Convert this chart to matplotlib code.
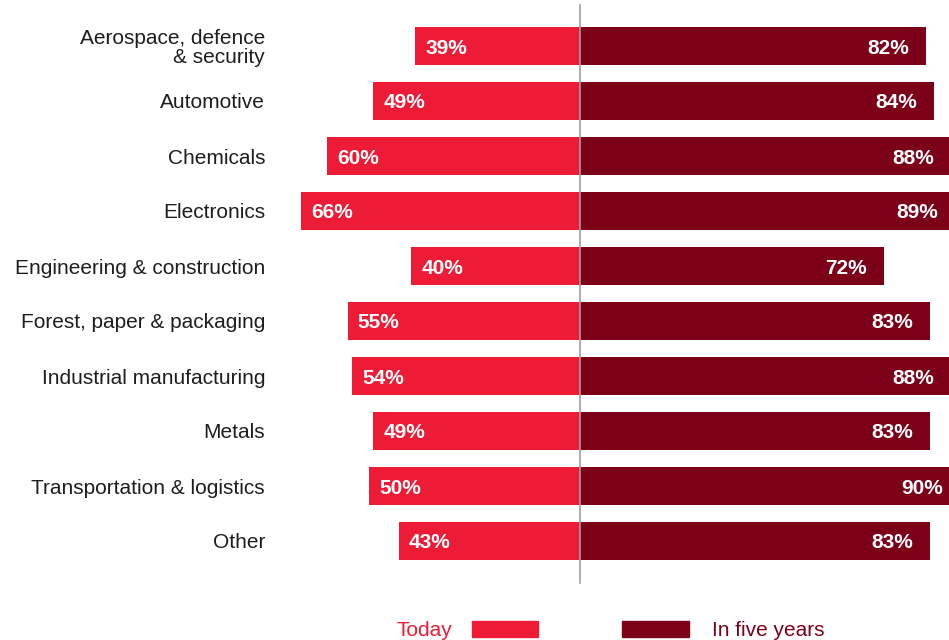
import matplotlib.pyplot as plt
from matplotlib.patches import Rectangle

plt.rcParams['font.family'] = ['Liberation Sans', 'DejaVu Sans']

categories = ['Aerospace, defence\n& security', 'Automotive', 'Chemicals', 'Electronics',
              'Engineering & construction', 'Forest, paper & packaging',
              'Industrial manufacturing', 'Metals', 'Transportation & logistics', 'Other']
today = [39, 49, 60, 66, 40, 55, 54, 49, 50, 43]
five_years = [82, 84, 88, 89, 72, 83, 88, 83, 90, 83]

red = '#ED1B36'
dark = '#7D0019'

# pixel geometry of the reference: 4.22 px per percent, centre at x=580, rows 55 px apart
px = 4.22
fig = plt.figure(figsize=(9.49, 6.4), dpi=100)
ax = fig.add_axes([0, 0, 1, 1])
ax.set_xlim(-580 / px, (949 - 580) / px)
ax.set_ylim((640 - 46) / 55, -46 / 55)
ax.axis('off')

y = list(range(len(categories)))
ax.barh(y, [-v for v in today], height=0.68, color=red)
ax.barh(y, five_years, height=0.68, color=dark)

ax.plot([0, 0], [-41 / 55, 537 / 55], color='#A0A0A0', lw=1.2, zorder=3)

dy = 2 / 55  # nudge text down a little
for i, (t, f, c) in enumerate(zip(today, five_years, categories)):
    ax.text(-t + 10 / px, i + dy, f'{t}%', color='white', fontsize=15, fontweight='bold',
            ha='left', va='center')
    ax.text(f - 17 / px, i + dy, f'{f}%', color='white', fontsize=15, fontweight='bold',
            ha='right', va='center')
    ax.text(-315 / px, i + dy, c, color='#1E1E1E', fontsize=15, ha='right', va='center',
            linespacing=0.95)

# legend at the bottom
ly = (629 - 46) / 55
bh = 16 / 55
ax.text(-128 / px, ly + dy, 'Today', color=red, fontsize=15, ha='right', va='center')
ax.add_patch(Rectangle((-108 / px, ly - bh / 2), 66 / px, bh, color=red, clip_on=False))
ax.add_patch(Rectangle((42 / px, ly - bh / 2), 67 / px, bh, color=dark, clip_on=False))
ax.text(132 / px, ly + dy, 'In five years', color=dark, fontsize=15, ha='left', va='center')

fig.savefig('out.png', dpi=100)
